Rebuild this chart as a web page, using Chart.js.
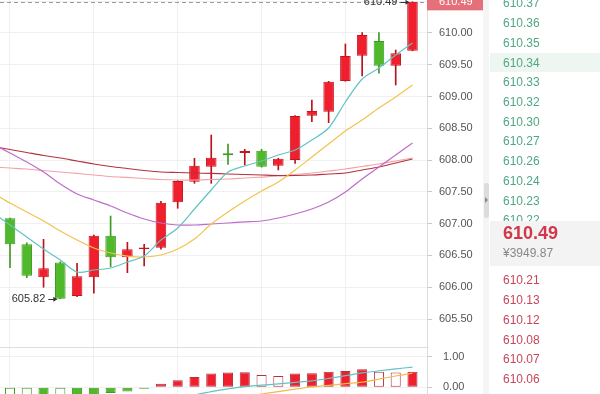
<!DOCTYPE html>
<html>
<head>
<meta charset="utf-8">
<script src="https://cdn.jsdelivr.net/npm/chart.js@4.4.1/dist/chart.umd.min.js"></script>
<style>
html,body{margin:0;padding:0;background:#fff;}
body{width:600px;height:394px;overflow:hidden;position:relative;font-family:"Liberation Sans",Arial,sans-serif;}
#c1{position:absolute;left:0;top:0;}
#c2{position:absolute;left:0;top:347px;}
#strip{position:absolute;left:483px;top:0;width:6px;height:394px;background:#f5f5f5;}
#handle{position:absolute;left:484px;top:183px;width:5px;height:35px;background:#dcdcdc;border-radius:2px;}
#handle:after{content:"";position:absolute;left:1px;top:14px;border-left:3px solid #888;border-top:3px solid transparent;border-bottom:3px solid transparent;}
#book{position:absolute;left:490px;top:0;width:110px;height:394px;}
.hl{position:absolute;left:0;width:110px;height:19px;background:#eef6f1;}
.px{position:absolute;left:13px;font-size:12px;line-height:14px;white-space:nowrap;}
.ask{color:#4ea883;}
.bid{color:#c8455a;}
#cur{position:absolute;left:0;top:221px;width:110px;height:45px;background:#f3f3f3;}
#curP{position:absolute;left:13px;top:1px;font-size:18px;font-weight:bold;color:#d1374a;line-height:22px;}
#curC{position:absolute;left:13px;top:25px;font-size:12px;color:#888;line-height:14px;}
</style>
</head>
<body>
<canvas id="c1" width="487" height="347"></canvas>
<canvas id="c2" width="487" height="47"></canvas>
<div id="strip"></div><div id="handle"></div>
<div id="book"></div>
<script>
// ---- candle data (index 0..24) ----
const openP  = [607.085,606.676,606.156,606.390,605.862,606.156,606.810,606.471,606.602,606.622,607.336,607.660,607.897,608.107,608.112,608.148,607.912,608.002,608.699,608.762,609.245,609.643,609.874,609.486,609.722];
const highP  = [607.090,606.700,606.754,606.400,606.377,606.820,607.120,606.707,606.675,607.350,607.680,608.029,608.395,608.254,608.170,608.170,608.030,608.700,608.946,609.240,609.827,610.005,610.005,609.733,610.490];
const lowP   = [606.307,606.150,606.000,605.820,605.850,605.905,606.323,606.229,606.334,606.600,607.242,607.635,607.635,607.934,607.923,607.890,607.845,607.950,608.604,608.589,609.240,609.323,609.366,609.182,609.720];
const closeP = [606.676,606.180,606.298,605.820,606.172,606.810,606.471,606.597,606.625,607.330,607.671,607.912,608.038,608.076,608.143,607.897,608.022,608.694,608.773,609.234,609.638,609.969,609.486,609.680,610.490];
// ---- moving averages (index -1..24) ----
const ma5  = [607.168,606.979,606.790,606.602,606.429,606.240,606.271,606.303,606.397,606.492,606.743,606.932,607.231,607.530,607.813,607.907,607.986,608.080,608.159,608.317,608.505,608.914,609.276,609.449,609.654,609.843];
const ma10 = [607.480,607.325,607.184,607.042,606.885,606.743,606.617,606.539,606.491,606.476,606.507,606.602,606.759,606.995,607.184,607.357,607.514,607.656,607.844,608.049,608.254,608.458,608.631,608.820,608.993,609.182];
const ma20 = [608.250,608.112,607.970,607.813,607.624,607.467,607.373,607.278,607.168,607.074,607.011,606.979,606.979,606.995,607.011,607.027,607.042,607.089,607.152,607.231,607.341,607.498,607.703,607.892,608.081,608.269];
const ma30 = [608.214,608.167,608.120,608.073,608.033,607.986,607.939,607.900,607.868,607.837,607.813,607.805,607.797,607.790,607.782,607.774,607.766,607.758,607.758,607.766,607.782,607.797,607.845,607.892,607.955,608.018];
const ma60 = [607.892,607.876,607.860,607.837,607.813,607.790,607.766,607.742,607.727,607.711,607.695,607.687,607.687,607.695,607.703,607.719,607.734,607.750,607.774,607.797,607.829,607.860,607.900,607.939,607.986,608.033];
// ---- MACD panel (index 0..24) ----
const macdHist = [-0.55,-0.62,-0.50,-0.58,-0.42,-0.30,-0.19,-0.14,-0.05,0.12,0.23,0.34,0.45,0.48,0.49,0.40,0.37,0.45,0.46,0.51,0.53,0.59,0.51,0.48,0.51];
const macdDif  = [-0.95,-1.00,-1.05,-1.08,-1.06,-0.98,-0.88,-0.76,-0.62,-0.48,-0.36,-0.25,-0.14,-0.05,0.02,0.07,0.11,0.16,0.21,0.29,0.38,0.47,0.54,0.60,0.66];
const macdDea  = [-0.70,-0.76,-0.82,-0.88,-0.92,-0.94,-0.93,-0.90,-0.86,-0.80,-0.72,-0.63,-0.53,-0.43,-0.33,-0.22,-0.14,-0.06,0.01,0.06,0.12,0.17,0.27,0.37,0.46];
// ---- order book ----
const askPrices = ['610.37','610.36','610.35','610.34','610.33','610.32','610.30','610.27','610.26','610.24','610.23','610.22'];
const highlightedAsk = '610.34';
const bidPrices = ['610.21','610.13','610.12','610.08','610.07','610.06'];
const lastPriceText = '610.49';
const lastPriceCny = '¥3949.87';

Chart.defaults.font.family = '"Liberation Sans", Arial, sans-serif';
const RED = '#ef1f2d', RED_B = '#c4161f', RED_W = '#b8141d';
const GRN = '#4fb82b', GRN_B = '#3c9a1f', GRN_W = '#3f9a22';
const XMIN = -0.5963, XMAX = 24.866;

const fixY = s => { s.width = 60; s.paddingTop = 0; s.paddingBottom = 0; };
const mkX = () => ({
  type:'linear', min:XMIN, max:XMAX, offset:false,
  ticks:{display:false, stepSize:5, includeBounds:false},
  grid:{color:'#f0f0f0', drawTicks:false, offset:false}, border:{display:false},
  afterFit: s => { s.height = 0; }
});
const linePts = arr => arr.map((v,i)=>({x:i-1, y:v}));
const lineDs = (arr, color) => ({type:'line', data:linePts(arr), borderColor:color, borderWidth:1.2, pointRadius:0, tension:0.3, order:0});

function markLabel(ctx, px, py, text){
  const tip = px - 4;
  ctx.save();
  ctx.strokeStyle = '#333'; ctx.fillStyle = '#333'; ctx.lineWidth = 1;
  ctx.beginPath(); ctx.moveTo(tip-8, Math.round(py)+0.5); ctx.lineTo(tip, Math.round(py)+0.5); ctx.stroke();
  ctx.beginPath(); ctx.moveTo(tip+1, py+0.5); ctx.lineTo(tip-3, py-2); ctx.lineTo(tip-3, py+3); ctx.closePath(); ctx.fill();
  ctx.font = '11px "Liberation Sans", Arial'; ctx.textAlign = 'right'; ctx.textBaseline = 'middle';
  ctx.fillText(text, tip - 11, py);
  ctx.restore();
}

const annot = {
  id:'annot',
  beforeDatasetsDraw(chart){
    const {ctx, chartArea:a, scales:{y}} = chart;
    const yy = Math.round(y.getPixelForValue(closeP[closeP.length-1])) + 0.5;
    ctx.save(); ctx.strokeStyle = '#9a9a9a'; ctx.setLineDash([4,3]); ctx.lineWidth = 1;
    ctx.beginPath(); ctx.moveTo(a.left, yy); ctx.lineTo(a.right, yy); ctx.stroke(); ctx.restore();
  },
  afterDraw(chart){
    const {ctx, chartArea:a, scales:{x, y}} = chart;
    let hi = 0, lo = 0;
    highP.forEach((v,i)=>{ if (v > highP[hi]) hi = i; });
    lowP.forEach((v,i)=>{ if (v < lowP[lo]) lo = i; });
    markLabel(ctx, x.getPixelForValue(hi), y.getPixelForValue(highP[hi]), highP[hi].toFixed(2));
    markLabel(ctx, x.getPixelForValue(lo), y.getPixelForValue(lowP[lo]), lowP[lo].toFixed(2));
    const last = closeP[closeP.length-1];
    const yy = y.getPixelForValue(last);
    ctx.save();
    ctx.fillStyle = '#e6707a';
    ctx.fillRect(a.right, yy - 8.5, 58, 17);
    ctx.fillStyle = '#fff'; ctx.font = '11px "Liberation Sans", Arial';
    ctx.textAlign = 'left'; ctx.textBaseline = 'middle';
    ctx.fillText(last.toFixed(2), a.right + 12, yy);
    ctx.restore();
  }
};

new Chart(document.getElementById('c1'), {
  data:{datasets:[
    lineDs(ma5, '#63c3c4'),
    lineDs(ma10, '#f3c24f'),
    lineDs(ma20, '#c06bcc'),
    lineDs(ma30, '#b2323f'),
    lineDs(ma60, '#f2a3a8'),
    {type:'bar', data:openP.map((o,i)=>({x:i, y:[o, closeP[i]]})),
     backgroundColor: c => closeP[c.dataIndex] >= openP[c.dataIndex] ? RED : GRN,
     borderColor: c => closeP[c.dataIndex] >= openP[c.dataIndex] ? RED_B : GRN_B,
     borderWidth:1, borderSkipped:false, grouped:false, barPercentage:0.63, categoryPercentage:1, order:1},
    {type:'bar', data:lowP.map((l,i)=>({x:i, y:[l, highP[i]]})),
     backgroundColor: c => closeP[c.dataIndex] >= openP[c.dataIndex] ? RED_W : GRN_W,
     barThickness:1, grouped:false, order:2}
  ]},
  options:{
    responsive:false, animation:false, devicePixelRatio:1,
    layout:{padding:0},
    plugins:{legend:{display:false}, tooltip:{enabled:false}},
    scales:{
      x: mkX(),
      y:{type:'linear', position:'right', min:605.06, max:610.519,
         ticks:{stepSize:0.5, includeBounds:false, padding:7, color:'#555', font:{size:11}, callback:v=>v.toFixed(2)},
         grid:{color:'#f0f0f0', tickColor:'#c8c8c8', tickLength:5}, border:{color:'#dcdcdc'}, afterFit:fixY}
    }
  },
  plugins:[annot]
});

const sepLine = {
  id:'sep',
  afterDraw(chart){
    const {ctx, chartArea:a} = chart;
    ctx.save(); ctx.strokeStyle = '#dedede'; ctx.lineWidth = 1;
    ctx.beginPath(); ctx.moveTo(a.left, 0.5); ctx.lineTo(a.right, 0.5); ctx.stroke(); ctx.restore();
  }
};

new Chart(document.getElementById('c2'), {
  data:{datasets:[
    {type:'line', data:macdDif.map((v,i)=>({x:i,y:v})), borderColor:'#63c3c4', borderWidth:1.2, pointRadius:0, tension:0.3, order:0},
    {type:'line', data:macdDea.map((v,i)=>({x:i,y:v})), borderColor:'#f3b94a', borderWidth:1.2, pointRadius:0, tension:0.3, order:0},
    {type:'bar', data:macdHist.map((v,i)=>({x:i,y:v})),
     backgroundColor: c => { const i = c.dataIndex, v = macdHist[i]; const solid = i > 0 && v > macdHist[i-1]; return solid ? (v >= 0 ? RED : GRN) : '#ffffff'; },
     borderColor: c => macdHist[c.dataIndex] >= 0 ? '#b03340' : GRN_B,
     borderWidth:1, borderSkipped:false, grouped:false, barPercentage:0.6, categoryPercentage:1, order:1}
  ]},
  options:{
    responsive:false, animation:false, devicePixelRatio:1,
    layout:{padding:0},
    plugins:{legend:{display:false}, tooltip:{enabled:false}},
    scales:{
      x: mkX(),
      y:{type:'linear', position:'right', min:-0.219, max:1.317,
         ticks:{stepSize:1, includeBounds:false, padding:11, color:'#555', font:{size:11}, callback:v=>v.toFixed(2)},
         grid:{color:'#f0f0f0', tickColor:'#c8c8c8', tickLength:5}, border:{color:'#dcdcdc'}, afterFit:fixY}
    }
  },
  plugins:[sepLine]
});

// ---- order book panel ----
const book = document.getElementById('book');
askPrices.forEach((p,k)=>{
  const cy = 3.3 + 19.74*k;
  if (p === highlightedAsk) {
    const h = document.createElement('div'); h.className = 'hl'; h.style.top = (cy - 9.5) + 'px'; book.appendChild(h);
  }
  const d = document.createElement('div'); d.className = 'px ask'; d.style.top = (cy - 7) + 'px'; d.textContent = p; book.appendChild(d);
});
const cur = document.createElement('div'); cur.id = 'cur';
cur.innerHTML = '<div id="curP"></div><div id="curC"></div>';
book.appendChild(cur);
document.getElementById('curP').textContent = lastPriceText;
document.getElementById('curC').textContent = lastPriceCny;
bidPrices.forEach((p,k)=>{
  const cy = 280 + 19.85*k;
  const d = document.createElement('div'); d.className = 'px bid'; d.style.top = (cy - 7) + 'px'; d.textContent = p; book.appendChild(d);
});
</script>
</body>
</html>
